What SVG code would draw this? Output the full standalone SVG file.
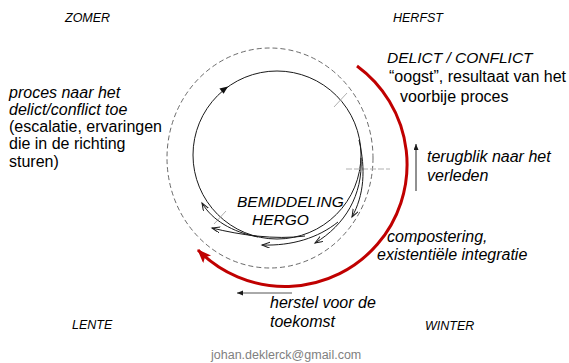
<svg xmlns="http://www.w3.org/2000/svg" width="569" height="363" viewBox="0 0 569 363">
<style>
text{font-family:"Liberation Sans",Arial,sans-serif;fill:#000}
.season{font-size:12.5px;font-style:italic}
.t{font-size:16px}
.i{font-style:italic}
.caps{font-size:15.5px;font-style:italic}
.mail{font-size:12.5px;fill:#7f7f7f}
.thin{fill:none;stroke:#1a1a1a;stroke-width:1}
.tick{fill:none;stroke:#b0b0b0;stroke-width:1}
</style>
<defs>
<marker id="open" markerUnits="userSpaceOnUse" markerWidth="10" markerHeight="8" refX="8" refY="3" orient="auto">
<path d="M0,0 L8,3 L0,6" fill="none" stroke="#1a1a1a" stroke-width="1"/>
</marker>
<marker id="solid" markerUnits="userSpaceOnUse" markerWidth="8" markerHeight="6" refX="6" refY="2.5" orient="auto">
<path d="M0,0 L6,2.5 L0,5 Z" fill="#1a1a1a"/>
</marker>
<marker id="red" markerUnits="userSpaceOnUse" markerWidth="16" markerHeight="12" refX="13" refY="5.5" orient="auto">
<path d="M0,0 L14,5.5 L0,11 L3,5.5 Z" fill="#c00000"/>
</marker>
</defs>
<rect width="569" height="363" fill="#fff"/>

<g id="seasons">
<text class="season" x="65" y="22">ZOMER</text>
<text class="season" x="393" y="22">HERFST</text>
<text class="season" x="72" y="329">LENTE</text>
<text class="season" x="425" y="330">WINTER</text>
</g>

<g id="cycle">
<ellipse cx="270" cy="158" rx="103" ry="110" fill="none" stroke="#444" stroke-width="0.8" stroke-dasharray="5 3"/>
<circle cx="277" cy="155" r="84" class="thin"/>
<polygon points="228,86.5 223.6,93.8 219.4,88.6" fill="#111"/>
<line class="tick" x1="334" y1="107" x2="347" y2="93"/>
<line class="tick" x1="346" y1="169" x2="390" y2="169" stroke-dasharray="6 2"/>
<line class="tick" x1="214" y1="224" x2="226" y2="211"/>
</g>

<g id="mediation">
<text class="caps" x="237" y="207">BEMIDDELING</text>
<text class="caps" x="252" y="225">HERGO</text>
</g>

<g id="delict">
<text class="caps" x="387" y="63">DELICT / CONFLICT</text>
<text class="t" x="389" y="82">“oogst”, resultaat van het</text>
<text class="t" x="400" y="102">voorbije proces</text>
</g>

<g id="terugblik">
<text class="t i" x="427" y="162">terugblik naar het</text>
<text class="t i" x="427" y="181">verleden</text>
</g>

<g id="compostering">
<text class="t i" x="387" y="242">compostering,</text>
<text class="t i" x="377" y="260">existentiële integratie</text>
</g>

<g id="herstel">
<text class="t i" x="270" y="308">herstel voor de</text>
<text class="t i" x="270" y="327">toekomst</text>
</g>

<g id="proces">
<text class="t i" x="9" y="98">proces naar het</text>
<text class="t i" x="9" y="115">delict/conflict toe</text>
<text class="t" x="9" y="132">(escalatie, ervaringen</text>
<text class="t" x="9" y="149">die in de richting</text>
<text class="t" x="9" y="167">sturen)</text>
</g>

<g id="email">
<text class="mail" x="211" y="359">johan.deklerck@gmail.com</text>
</g>

<g id="connectors">
<path d="M357,66 A122,122 0 1,1 198,250" fill="none" stroke="#c00000" stroke-width="3" marker-end="url(#red)"/>
<path class="thin" d="M359,140 C366,170 364,195 352,217" marker-end="url(#open)"/>
<path class="thin" d="M361,158 C363,195 345,225 315,243" marker-end="url(#open)"/>
<path class="thin" d="M338,222 C318,238 292,246 262,245" marker-end="url(#open)"/>
<path class="thin" d="M305,236 C275,240 240,235 212,228" marker-end="url(#open)"/>
<path class="thin" d="M258,237 C232,232 212,220 202,203" marker-end="url(#open)"/>
<line x1="416" y1="191" x2="416" y2="144" stroke="#222" stroke-width="1" marker-end="url(#solid)"/>
<line x1="292" y1="293" x2="237" y2="293" stroke="#555" stroke-width="1" marker-end="url(#solid)"/>
</g>
</svg>
